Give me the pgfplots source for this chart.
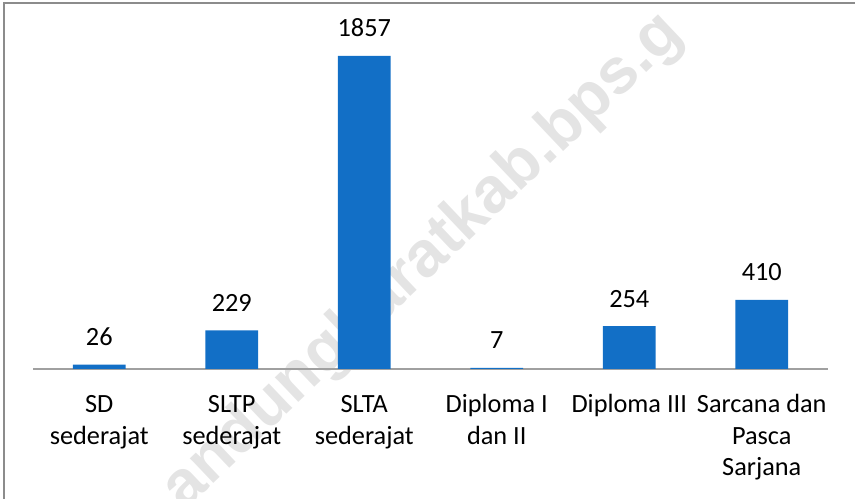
\documentclass[border=0pt]{standalone}
\usepackage{fontspec}
\setmainfont{Carlito}
\newfontfamily\wmfont{Liberation Sans}
\usepackage{pgfplots}
\pgfplotsset{compat=1.18}
\definecolor{barblue}{RGB}{18,111,198}
\definecolor{framegray}{RGB}{140,140,140}
\definecolor{axisgray}{RGB}{160,160,160}
\definecolor{wmgray}{RGB}{228,228,228}
\newcommand\lbl[1]{\begin{tabular}[t]{@{}c@{}}#1\end{tabular}}
\begin{document}
\begin{tikzpicture}[x=1bp,y=1bp]
\useasboundingbox (0,0) rectangle (855,499);
\begin{scope}
\clip (0,0) rectangle (855,499);
\node[rotate=43.5, text=wmgray, font=\wmfont\bfseries\fontsize{64.6}{78}\selectfont, inner sep=0] at (423,237) {andungbaratkab.bps.g};
\end{scope}
\draw[framegray, line width=2bp] (4.3,0) -- (4.3,496) -- (855,496);
\begin{axis}[
  at={(33bp,130bp)}, anchor=south west,
  scale only axis, width=795bp, height=337.1bp,
  ybar, bar width=52.7bp,
  ymin=0, ymax=2000, xmin=-0.5, xmax=5.5,
  axis y line=none, axis x line*=bottom,
  x axis line style={axisgray, line width=1.2bp},
  xtick={0,1,2,3,4,5},
  xticklabels={{\lbl{SD\\sederajat}},{\lbl{SLTP\\sederajat}},{\lbl{SLTA\\sederajat}},{\lbl{Diploma I\\dan II}},{\lbl{Diploma III}},{\lbl{Sarcana dan\\Pasca\\Sarjana}}},
  major tick length=0pt,
  xticklabel style={font=\fontsize{26.4}{31.6}\selectfont, anchor=base, yshift=-43.7bp, inner sep=0pt},
  /pgf/number format/.cd, 1000 sep={}, assume math mode=true, /pgfplots/.cd,
  nodes near coords,
  every node near coord/.append style={font=\fontsize{26.4}{31.6}\selectfont, text=black, anchor=base, yshift=19bp, inner sep=0pt},
  clip=false,
]
\addplot[fill=barblue, draw=none] coordinates {(0,26) (1,229) (2,1857) (3,7) (4,254) (5,410)};
\end{axis}
\end{tikzpicture}
\end{document}
